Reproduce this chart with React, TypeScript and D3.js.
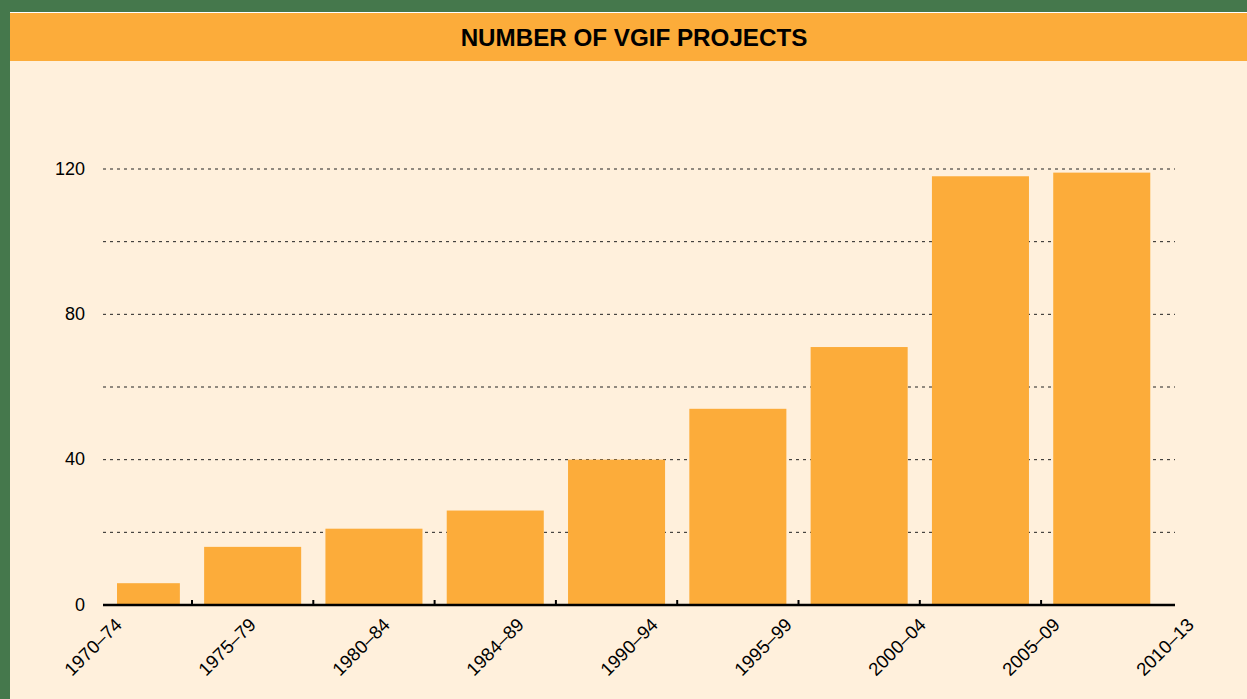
import React, { useEffect, useRef } from "react";
import * as d3 from "d3";

const periods = ["1970–74", "1975–79", "1980–84", "1984–89", "1990–94", "1995–99", "2000–04", "2005–09", "2010–13"];
const projects = [6, 16, 21, 26, 40, 54, 71, 118, 119];
const gridValues = [20, 40, 60, 80, 100, 120];
const labelValues = [0, 40, 80, 120];
const title = "NUMBER OF VGIF PROJECTS";

const W = 1247;
const H = 699;
const GREEN = "#45784C";
const ORANGE = "#FCAC3A";
const CREAM = "#FFF0DC";
const FONT = "'Liberation Sans', Arial, Helvetica, sans-serif";

export default function App() {
  const ref = useRef<SVGSVGElement | null>(null);

  useEffect(() => {
    const svg = d3.select(ref.current);
    svg.selectAll("*").remove();

    svg.append("rect").attr("width", W).attr("height", H).attr("fill", GREEN);
    svg.append("rect").attr("x", 10).attr("y", 12).attr("width", W - 10).attr("height", 1).attr("fill", "#ffffff");
    svg.append("rect").attr("x", 10).attr("y", 13).attr("width", W - 10).attr("height", 48).attr("fill", ORANGE);
    svg.append("rect").attr("x", 10).attr("y", 61).attr("width", W - 10).attr("height", H - 61).attr("fill", CREAM);

    svg.append("text")
      .attr("x", 634).attr("y", 46)
      .attr("text-anchor", "middle")
      .attr("font-family", FONT).attr("font-weight", "bold").attr("font-size", 24.2)
      .attr("fill", "#000").text(title);

    const axisL = 103, axisR = 1175;
    const y = d3.scaleLinear().domain([0, 120]).range([605, 169]);
    const x = d3.scaleBand<string>().domain(periods).range([70.7, 1162.4]).paddingInner(0.2).paddingOuter(0.1);
    const lbl = d3.scalePoint<string>().domain(periods).range([axisL, axisR]);

    // gridlines
    svg.append("g").selectAll("line").data(gridValues).join("line")
      .attr("x1", axisL).attr("x2", axisR)
      .attr("y1", d => y(d)).attr("y2", d => y(d))
      .attr("stroke", "#222").attr("stroke-width", 1).attr("stroke-dasharray", "3,4");

    // bars
    svg.append("g").selectAll("rect").data(periods).join("rect")
      .attr("x", d => Math.max(x(d)!, axisL + 14))
      .attr("width", d => x(d)! + x.bandwidth() - Math.max(x(d)!, axisL + 14))
      .attr("y", (d, i) => y(projects[i]))
      .attr("height", (d, i) => y(0) - y(projects[i]))
      .attr("fill", ORANGE);

    // y labels
    svg.append("g").selectAll("text").data(labelValues).join("text")
      .attr("x", 85).attr("y", d => y(d)).attr("dy", "0.32em")
      .attr("text-anchor", "end")
      .attr("font-family", FONT).attr("font-size", 18).attr("fill", "#000")
      .text(d => String(d));

    // axis line
    svg.append("line").attr("x1", axisL).attr("x2", axisR).attr("y1", 605).attr("y2", 605)
      .attr("stroke", "#000").attr("stroke-width", 2.5);

    // ticks between bands
    const tickPos = periods.slice(1).map(p => x(p)! - (x.step() - x.bandwidth()) / 2);
    svg.append("g").selectAll("line").data(tickPos).join("line")
      .attr("x1", d => d).attr("x2", d => d).attr("y1", 605).attr("y2", 600)
      .attr("stroke", "#000").attr("stroke-width", 2);

    // x labels
    svg.append("g").selectAll("text").data(periods).join("text")
      .attr("transform", d => `translate(${lbl(d)! + 20},${626}) rotate(-45)`)
      .attr("text-anchor", "end")
      .attr("font-family", FONT).attr("font-size", 18.5).attr("fill", "#000")
      .text(d => d);
  }, []);

  return <svg ref={ref} width={W} height={H} style={{ position: "absolute", left: 0, top: 0, display: "block" }} />;
}
